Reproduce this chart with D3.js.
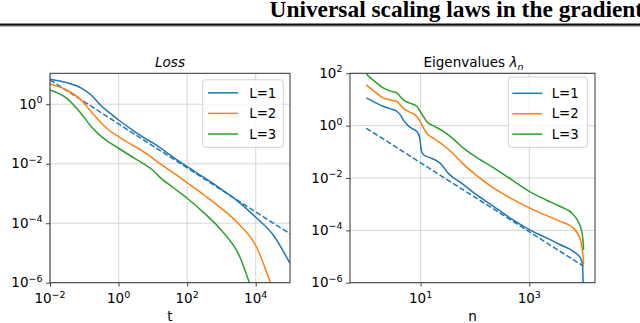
<!DOCTYPE html>
<html>
<head>
<meta charset="utf-8">
<script src="https://cdn.jsdelivr.net/npm/d3@7"></script>
<style>
  body { margin: 0; background: #fff; }
  svg { display: block; }
</style>
</head>
<body>
<script>
// values, kept as log10 exponents
var series = ["L=1", "L=2", "L=3"];
var colors = ["#1f77b4", "#ff7f0e", "#2ca02c"];

// Loss panel
var lossT = [-2, -1.5, -1.1, -0.8, -0.5, -0.25, 0, 0.47, 0.76, 1.0, 1.2, 1.59, 2.0, 2.5, 3.0, 3.5, 4.0, 4.5, 5.0];
var lossL1 = [0.84, 0.72, 0.55, 0.31, -0.06, -0.30, -0.53, -0.92, -1.14, -1.30, -1.45, -1.78, -2.10, -2.47, -2.86, -3.28, -3.80, -4.38, -5.35];
var lossL2 = [0.68, 0.47, 0.15, -0.25, -0.64, -0.90, -1.09, -1.42, -1.62, -1.82, -1.99, -2.30, -2.64, -3.06, -3.50, -4.02, -4.75, -6.2, -7.5];
var lossL3 = [0.48, 0.19, -0.30, -0.75, -1.09, -1.30, -1.48, -1.82, -2.02, -2.22, -2.45, -2.80, -3.16, -3.66, -4.24, -5.04, -6.6, -8, -9];
var lossFitT = [-2, 5];
var lossFit = [0.82, -4.36];

// Eigenvalue panel
var eigN1 = [0, 0.15, 0.31, 0.45, 0.56, 0.63, 0.68, 0.77, 0.85, 0.93, 0.98, 1.02, 1.06, 1.17, 1.30, 1.40, 1.50, 1.60, 1.72, 2.0, 2.34, 2.7, 3.0, 3.3, 3.56, 3.81, 3.94, 3.98, 4.0];
var eigL1 = [1.06, 0.90, 0.74, 0.64, 0.55, 0.40, 0.22, 0.0, -0.12, -0.22, -0.45, -1.0, -1.12, -1.22, -1.35, -1.52, -1.80, -1.98, -2.15, -2.60, -3.08, -3.60, -3.97, -4.27, -4.54, -4.80, -5.05, -5.3, -7];
var eigN = [0, 0.15, 0.31, 0.45, 0.56, 0.62, 0.68, 0.80, 0.93, 0.99, 1.05, 1.11, 1.25, 1.42, 1.55, 1.66, 1.80, 2.0, 2.34, 2.7, 3.0, 3.3, 3.56, 3.81, 3.94, 3.99, 4.0];
var eigL2 = [1.56, 1.30, 1.06, 0.98, 0.93, 0.80, 0.67, 0.52, 0.35, 0.16, -0.08, -0.28, -0.50, -0.75, -0.98, -1.20, -1.50, -1.85, -2.38, -2.82, -3.14, -3.42, -3.65, -3.91, -4.35, -5.0, -5.3];
var eigL3 = [1.97, 1.70, 1.44, 1.32, 1.25, 1.12, 0.99, 0.86, 0.74, 0.55, 0.35, 0.16, -0.02, -0.22, -0.42, -0.62, -0.88, -1.17, -1.60, -2.10, -2.51, -2.83, -3.08, -3.40, -3.84, -4.4, -4.75];
var eigFitN = [0, 4];
var eigFit = [-0.1, -5.37];

var lossTicksX = [-2, 0, 2, 4];
var lossTicksY = [0, -2, -4, -6];
var eigTicksX = [1, 3];
var eigTicksY = [2, 0, -2, -4, -6];

var W = 640, H = 323;
var font = "DejaVu Sans, Verdana, sans-serif";

var svg = d3.select("body").append("svg")
    .attr("width", W)
    .attr("height", H);

// page header (runs off the right edge like the source page)
svg.append("text")
    .attr("x", 269.5).attr("y", 17.3)
    .style("font-family", "Liberation Serif, Times New Roman, serif")
    .style("font-weight", "bold")
    .style("font-size", "23.4px")
    .text("Universal scaling laws in the gradient");
svg.append("line").attr("x1", 0).attr("x2", W).attr("y1", 24.6).attr("y2", 24.6)
    .attr("stroke", "#111").attr("stroke-width", 2.2);
svg.append("line").attr("x1", 0).attr("x2", W).attr("y1", 26.4).attr("y2", 26.4)
    .attr("stroke", "#999").attr("stroke-width", 0.8);

function pow10(v){ return Math.pow(10, v); }

function panel(opt){
    var x = d3.scaleLog().domain(opt.xDomain).range([opt.x0, opt.x1]);
    var y = d3.scaleLog().domain(opt.yDomain).range([opt.y1, opt.y0]);
    var g = svg.append("g");

    var clipId = "clip" + opt.id;
    svg.append("clipPath").attr("id", clipId).append("rect")
        .attr("x", opt.x0).attr("y", opt.y0)
        .attr("width", opt.x1 - opt.x0).attr("height", opt.y1 - opt.y0);

    // grid
    g.selectAll(".gx").data(opt.ticksX).enter().append("line")
        .attr("x1", function(d){ return x(pow10(d)); })
        .attr("x2", function(d){ return x(pow10(d)); })
        .attr("y1", opt.y0).attr("y2", opt.y1)
        .attr("stroke", "#d0d0d0").attr("stroke-width", 0.9);
    g.selectAll(".gy").data(opt.ticksY).enter().append("line")
        .attr("y1", function(d){ return y(pow10(d)); })
        .attr("y2", function(d){ return y(pow10(d)); })
        .attr("x1", opt.x0).attr("x2", opt.x1)
        .attr("stroke", "#d0d0d0").attr("stroke-width", 0.9);

    // curves
    var line = d3.line()
        .x(function(d){ return x(pow10(d[0])); })
        .y(function(d){ return y(pow10(d[1])); })
        .curve(d3.curveMonotoneX);
    var plot = g.append("g").attr("clip-path", "url(#" + clipId + ")");

    plot.append("path")
        .datum(d3.zip(opt.fitX, opt.fitY))
        .attr("d", line)
        .attr("fill", "none").attr("stroke", colors[0])
        .attr("stroke-width", 1.5).attr("stroke-dasharray", "5.5,2.4");

    opt.curves.forEach(function(c, i){
        plot.append("path")
            .datum(d3.zip(c.x, c.y))
            .attr("d", line)
            .attr("fill", "none").attr("stroke", colors[i])
            .attr("stroke-width", 1.5);
    });

    // axes
    var ax = g.append("g").attr("transform", "translate(0," + opt.y1 + ")")
        .call(d3.axisBottom(x).tickValues(opt.ticksX.map(pow10)).tickSize(4).tickFormat(""));
    var ay = g.append("g").attr("transform", "translate(" + opt.x0 + ",0)")
        .call(d3.axisLeft(y).tickValues(opt.ticksY.map(pow10)).tickSize(4).tickFormat(""));
    [ax, ay].forEach(function(a){
        a.select(".domain").remove();
        a.selectAll(".tick line").attr("stroke", "#333").attr("stroke-width", 0.9);
    });

    function power(sel, e){
        sel.append("tspan").text("10");
        sel.append("tspan").attr("dy", -5.5).style("font-size", "9.5px")
            .text(e < 0 ? "\u2212" + (-e) : "" + e);
    }
    g.selectAll(".lx").data(opt.ticksX).enter().append("text")
        .attr("x", function(d){ return x(pow10(d)); })
        .attr("y", opt.y1 + 20.6)
        .attr("text-anchor", "middle")
        .style("font-family", font).style("font-size", "13.5px").style("fill", "#000")
        .each(function(d){ power(d3.select(this), d); });
    g.selectAll(".ly").data(opt.ticksY).enter().append("text")
        .attr("x", opt.x0 - 7.5)
        .attr("y", function(d){ return y(pow10(d)) + 4.5; })
        .attr("text-anchor", "end")
        .style("font-family", font).style("font-size", "13.5px").style("fill", "#000")
        .each(function(d){ power(d3.select(this), d); });

    // frame
    g.append("rect")
        .attr("x", opt.x0).attr("y", opt.y0)
        .attr("width", opt.x1 - opt.x0).attr("height", opt.y1 - opt.y0)
        .attr("fill", "none").attr("stroke", "#333").attr("stroke-width", 1);

    // x label
    g.append("text")
        .attr("x", (opt.x0 + opt.x1) / 2).attr("y", 321)
        .attr("text-anchor", "middle")
        .style("font-family", font).style("font-size", "13.5px")
        .text(opt.xLabel);

    // title
    var tt = g.append("text")
        .attr("x", opt.titleX).attr("y", 66.8)
        .attr("text-anchor", "middle")
        .style("font-family", font).style("font-size", "13.5px");
    opt.title(tt);

    // legend
    var lg = g.append("g");
    lg.append("rect")
        .attr("x", opt.leg.x).attr("y", opt.leg.y)
        .attr("width", opt.leg.w).attr("height", opt.leg.h)
        .attr("rx", 3)
        .attr("fill", "#fff").attr("fill-opacity", 0.8)
        .attr("stroke", "#cccccc").attr("stroke-width", 0.9);
    series.forEach(function(s, i){
        var ly = opt.leg.first + i * opt.leg.step;
        lg.append("line")
            .attr("x1", opt.leg.lx).attr("x2", opt.leg.lx + 30)
            .attr("y1", ly).attr("y2", ly)
            .attr("stroke", colors[i]).attr("stroke-width", 1.5);
        lg.append("text")
            .attr("x", opt.leg.tx).attr("y", ly + 4.7)
            .style("font-family", font).style("font-size", "13.3px")
            .text(s);
    });
}

panel({
    id: "loss",
    x0: 50, x1: 290, y0: 73.3, y1: 282.7,
    xDomain: [1e-2, 1e5], yDomain: [1e-6, pow10(1.04)],
    ticksX: lossTicksX, ticksY: lossTicksY,
    fitX: lossFitT, fitY: lossFit,
    curves: [{x: lossT, y: lossL1}, {x: lossT, y: lossL2}, {x: lossT, y: lossL3}],
    xLabel: "t",
    titleX: 170,
    title: function(t){ t.style("font-style", "italic").text("Loss"); },
    leg: {x: 202.7, y: 79.8, w: 80.6, h: 67.5, first: 92.8, step: 20.6, lx: 208, tx: 249.3}
});

panel({
    id: "eig",
    x0: 350, x1: 595, y0: 73.3, y1: 282.7,
    xDomain: [pow10(-0.3), pow10(4.21)], yDomain: [1e-6, 1e2],
    ticksX: eigTicksX, ticksY: eigTicksY,
    fitX: eigFitN, fitY: eigFit,
    curves: [{x: eigN1, y: eigL1}, {x: eigN, y: eigL2}, {x: eigN, y: eigL3}],
    xLabel: "n",
    titleX: 473.5,
    title: function(t){
        t.append("tspan").text("Eigenvalues ");
        t.append("tspan").style("font-style", "italic").text("\u03bb");
        t.append("tspan").style("font-style", "italic").style("font-size", "9.5px")
            .attr("dy", 3).text("n");
    },
    leg: {x: 508.3, y: 77, w: 79, h: 70.3, first: 93.3, step: 20.4, lx: 512.3, tx: 551.7}
});
</script>
</body>
</html>
